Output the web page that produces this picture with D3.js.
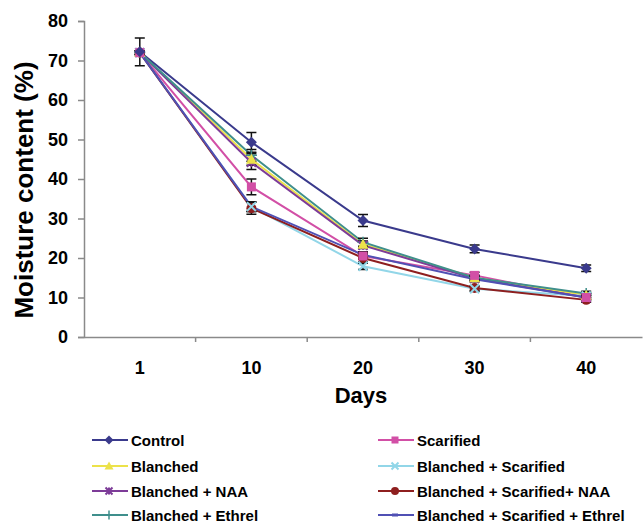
<!DOCTYPE html>
<html>
<head>
<meta charset="utf-8">
<script src="https://cdn.jsdelivr.net/npm/d3@7"></script>
<style>
  body { margin: 0; background: #fff; }
  text { font-family: "Liberation Sans", Arial, sans-serif; font-weight: bold; }
</style>
</head>
<body>
<div id="chart"></div>
<script>
// day categories along the x axis
var days = ["1", "10", "20", "30", "40"];
var yTicks = [0, 10, 20, 30, 40, 50, 60, 70, 80];

var seriesNames = ["Control", "Scarified", "Blanched", "Blanched + Scarified",
  "Blanched + NAA", "Blanched + Scarified+ NAA", "Blanched + Ethrel", "Blanched + Scarified + Ethrel"];
var seriesColors = ["#3a3a8c", "#d24fa6", "#ece24a", "#92d6e8", "#7d3c98", "#8e1f1f", "#3f8f8c", "#5050b4"];
var seriesMarkers = ["diamond", "square", "triangle", "x", "star", "circle", "plus", "dash"];

// moisture content (%) per series, one value per day
var control      = [72.2, 49.3, 29.5, 22.3, 17.4];
var scarified    = [72.0, 38.0, 20.5, 15.6, 10.0];
var blanched     = [72.0, 45.0, 23.5, 15.0, 10.6];
var blanchedScar = [72.0, 33.0, 17.9, 12.2, 10.4];
var blanchedNaa  = [72.0, 44.2, 23.2, 14.8, 10.0];
var bsNaa        = [72.0, 32.6, 20.0, 12.4, 9.4];
var blanchedEth  = [72.0, 46.0, 24.0, 15.0, 11.0];
var bsEth        = [72.0, 33.0, 20.8, 14.6, 10.0];

// error (+/-) per series
var controlErr      = [3.5, 2.5, 1.5, 1.0, 0.8];
var scarifiedErr    = [0.5, 2.0, 0.8, 0.8, 0.6];
var blanchedErr     = [0.5, 1.5, 0.8, 0.6, 0.6];
var blanchedScarErr = [0.5, 1.2, 0.8, 0.6, 0.6];
var blanchedNaaErr  = [0.5, 1.8, 0.8, 0.6, 0.6];
var bsNaaErr        = [0.5, 1.5, 1.0, 0.6, 0.6];
var blanchedEthErr  = [0.5, 1.5, 1.0, 0.6, 0.6];
var bsEthErr        = [0.5, 1.2, 0.8, 0.6, 0.6];

var allValues = [control, scarified, blanched, blanchedScar, blanchedNaa, bsNaa, blanchedEth, bsEth];
var allErrors = [controlErr, scarifiedErr, blanchedErr, blanchedScarErr, blanchedNaaErr, bsNaaErr, blanchedEthErr, bsEthErr];

(function() {
  var series = seriesNames.map(function(name, i) {
    return {
      name: name, color: seriesColors[i], marker: seriesMarkers[i],
      points: days.map(function(d, j) { return { day: d, value: allValues[i][j], err: allErrors[i][j] }; })
    };
  });

  var width = 644, height = 523;
  var plotLeft = 84, plotRight = 642, plotTop = 21, plotBottom = 337;

  var svg = d3.select("#chart").append("svg")
    .attr("width", width)
    .attr("height", height);

  var x = d3.scaleBand().domain(days).range([plotLeft, plotRight]);
  var y = d3.scaleLinear().domain([0, 80]).range([plotBottom, plotTop]);

  // y axis
  var yAxis = svg.append("g")
    .attr("transform", "translate(" + plotLeft + ",0)")
    .call(d3.axisLeft(y).tickValues(yTicks).tickSize(6).tickPadding(10));
  yAxis.selectAll("text").style("font-size", "18px").attr("fill", "#000");

  // x axis, ticks between categories
  var xAxis = svg.append("g")
    .attr("transform", "translate(0," + plotBottom + ")")
    .call(d3.axisBottom(x).tickSize(0).tickPadding(24));
  xAxis.selectAll("text").style("font-size", "18px").attr("fill", "#000");
  xAxis.selectAll(".boundary")
    .data(days.slice(1))
    .enter().append("line")
    .attr("class", "boundary")
    .attr("x1", function(d) { return x(d); })
    .attr("x2", function(d) { return x(d); })
    .attr("y1", 0).attr("y2", 5);

  svg.selectAll(".domain, .tick line, .boundary")
    .attr("stroke", "#8a8a8a").attr("stroke-width", 1.5);

  // axis titles
  svg.append("text")
    .attr("transform", "translate(33,190) rotate(-90)")
    .attr("text-anchor", "middle")
    .style("font-size", "26px")
    .text("Moisture content (%)");

  svg.append("text")
    .attr("x", 361)
    .attr("y", 403)
    .attr("text-anchor", "middle")
    .style("font-size", "22px")
    .text("Days");

  var cx = function(d) { return x(d.day) + x.bandwidth() / 2; };

  var line = d3.line()
    .x(cx)
    .y(function(d) { return y(d.value); });

  function drawMarker(g, type, color, s) {
    var h = s / 2;
    if (type === "diamond") {
      g.append("path").attr("d", "M0," + (-h - 1) + "L" + (h + 1) + ",0L0," + (h + 1) + "L" + (-h - 1) + ",0Z")
        .attr("fill", color);
    } else if (type === "square") {
      g.append("rect").attr("x", -h).attr("y", -h).attr("width", s).attr("height", s)
        .attr("fill", color);
    } else if (type === "triangle") {
      g.append("path").attr("d", "M0," + (-h - 1) + "L" + (h + 1) + "," + h + "L" + (-h - 1) + "," + h + "Z")
        .attr("fill", color);
    } else if (type === "circle") {
      g.append("circle").attr("r", h + 0.5).attr("fill", color);
    } else if (type === "x" || type === "star") {
      g.append("path").attr("d", "M" + (-h) + "," + (-h) + "L" + h + "," + h + "M" + (-h) + "," + h + "L" + h + "," + (-h))
        .attr("stroke", color).attr("stroke-width", 2);
      if (type === "star") {
        g.append("path").attr("d", "M0," + (-h) + "V" + h).attr("stroke", color).attr("stroke-width", 2);
      }
    } else if (type === "plus") {
      var p = h + 1;
      g.append("path").attr("d", "M" + (-p) + ",0H" + p + "M0," + (-p) + "V" + p)
        .attr("stroke", color).attr("stroke-width", 1.5);
    } else if (type === "dash") {
      g.append("path").attr("d", "M-3,0H3").attr("stroke", color).attr("stroke-width", 3);
    }
  }

  // lines
  var plot = svg.append("g");
  plot.selectAll(".series-line")
    .data(series)
    .enter().append("path")
    .attr("class", "series-line")
    .attr("fill", "none")
    .attr("stroke", function(s) { return s.color; })
    .attr("stroke-width", 2)
    .attr("d", function(s) { return line(s.points); });

  // error bars
  series.forEach(function(s) {
    plot.append("g").selectAll("path")
      .data(s.points)
      .enter().append("path")
      .attr("fill", "none")
      .attr("stroke", "#111")
      .attr("stroke-width", 1.5)
      .attr("d", function(d) {
        var xc = cx(d), y1 = y(d.value + d.err), y2 = y(d.value - d.err);
        return "M" + (xc - 5) + "," + y1 + "H" + (xc + 5) +
          "M" + xc + "," + y1 + "V" + y2 +
          "M" + (xc - 5) + "," + y2 + "H" + (xc + 5);
      });
  });

  // markers
  series.slice().reverse().forEach(function(s) {
    s.points.forEach(function(d) {
      var g = plot.append("g").attr("transform", "translate(" + cx(d) + "," + y(d.value) + ")");
      drawMarker(g, s.marker, s.color, 9);
    });
  });

  // legend in two columns
  var legend = svg.append("g");
  var rowY = [440, 466, 491, 515];
  var colX = [92, 378];
  series.forEach(function(s, i) {
    var col = i % 2, row = Math.floor(i / 2);
    var g = legend.append("g")
      .attr("transform", "translate(" + colX[col] + "," + rowY[row] + ")");
    g.append("line").attr("x1", 0).attr("x2", 36).attr("y1", 0).attr("y2", 0)
      .attr("stroke", s.color).attr("stroke-width", 2);
    var m = g.append("g").attr("transform", "translate(17,0)");
    drawMarker(m, s.marker, s.color, 7);
    g.append("text")
      .attr("x", 39).attr("y", 5.5)
      .style("font-size", "15px")
      .text(s.name);
  });
})();
</script>
</body>
</html>
